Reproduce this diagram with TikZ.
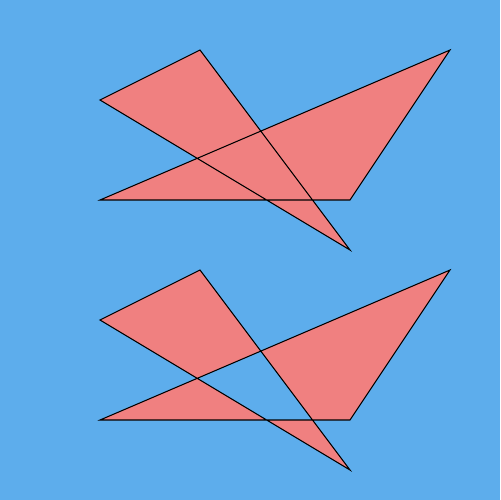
\documentclass[tikz,border=0pt]{standalone}
\definecolor{bgblue}{HTML}{5DADEC}
\definecolor{coral}{HTML}{F08080}
\begin{document}
\begin{tikzpicture}[x=0.02cm,y=-0.02cm,
  shapefill/.style={fill=coral,draw=black,line width=0.6pt,line join=miter}]
\fill[bgblue] (0,0) rectangle (500,500);
\useasboundingbox (0,0) rectangle (500,500);
% nonzero rule
\path[shapefill,nonzero rule] (100,100) -- (200,50) -- (350,250) -- cycle
  (100,200) -- (450,50) -- (350,200) -- cycle;
% even-odd rule
\path[shapefill,even odd rule] (100,320) -- (200,270) -- (350,470) -- cycle
  (100,420) -- (450,270) -- (350,420) -- cycle;
\end{tikzpicture}
\end{document}
